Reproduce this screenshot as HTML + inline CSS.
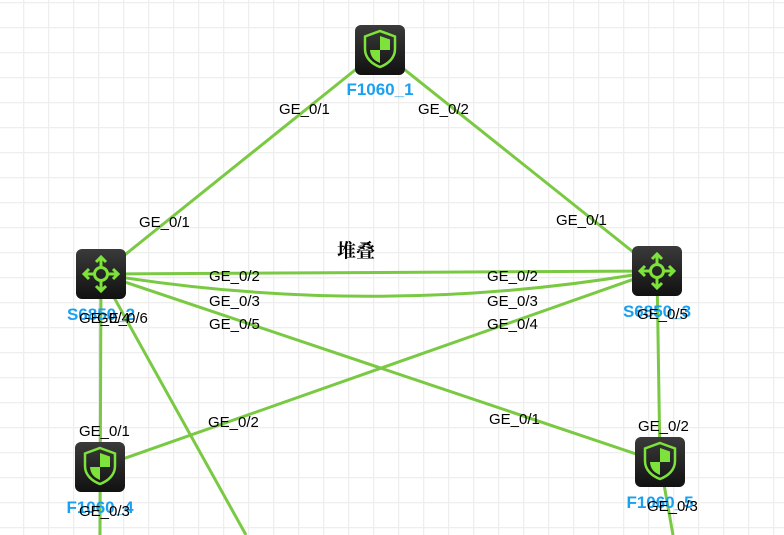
<!DOCTYPE html>
<html><head><meta charset="utf-8"><style>
html,body{margin:0;padding:0;background:#fff;}
svg{display:block;}
text{font-family:"Liberation Sans",Arial,sans-serif;}
.p{font-size:15px;fill:#000;}
.n{font-size:17px;font-weight:bold;fill:#1aa0f0;}
</style></head><body>
<svg width="784" height="535" viewBox="0 0 784 535" xmlns="http://www.w3.org/2000/svg">
<defs>
<pattern id="g" x="23" y="2" width="25" height="25" patternUnits="userSpaceOnUse">
<path d="M0 0V25M0 0H25" stroke="#eeeeee" stroke-width="2.5" fill="none"/>
</pattern>
<linearGradient id="ic" x1="0" y1="0" x2="0" y2="1"><stop offset="0" stop-color="#3a3a3a"/><stop offset="1" stop-color="#111"/></linearGradient>
<g id="fw">
<rect x="0" y="0" width="50" height="50" rx="6" fill="url(#ic)"/>
<path d="M25 6 L40 11.5 L40 24 C40 33 33 39 25 42 C17 39 10 33 10 24 L10 11.5 Z" fill="none" stroke="#7de33a" stroke-width="2.5"/>
<path d="M25 11 L35 14.5 L35 25 L25 25 Z" fill="#7de33a"/>
<path d="M25 25 L15 25 C15.5 32 19 35.5 25 38 Z" fill="#7de33a"/>
</g>
<g id="sw">
<rect x="0" y="0" width="50" height="50" rx="6" fill="url(#ic)"/>
<g stroke="#7de33a" stroke-width="3" fill="none">
<circle cx="25" cy="25" r="6.5"/>
<path d="M25 18.5V8M25 31.5V42M18.5 25H8M31.5 25H42"/>
<path d="M20 13L25 8L30 13M20 37L25 42L30 37M13 20L8 25L13 30M37 20L42 25L37 30"/>
</g>
</g>
</defs>
<rect width="784" height="535" fill="#fff"/>
<rect width="784" height="535" fill="url(#g)"/>
<g stroke="#7ac943" stroke-width="3" fill="none">
<line x1="380" y1="50" x2="101" y2="274"/>
<line x1="380" y1="50" x2="657" y2="271"/>
<line x1="101" y1="274" x2="657" y2="271"/>
<path d="M101 274 Q380 320 657 271"/>
<line x1="101" y1="274" x2="660" y2="462"/>
<line x1="657" y1="271" x2="100" y2="467"/>
<line x1="101" y1="274" x2="100" y2="535"/>
<line x1="101" y1="274" x2="246" y2="535"/>
<line x1="657" y1="271" x2="660" y2="462"/>
<line x1="660" y1="462" x2="673" y2="535"/>
</g>
<use href="#fw" x="355" y="25"/>
<use href="#sw" x="76" y="249"/>
<use href="#sw" x="632" y="246"/>
<use href="#fw" x="75" y="442"/>
<use href="#fw" x="635" y="437"/>
<text class="n" x="380" y="95" text-anchor="middle">F1060_1</text>
<text class="n" x="101" y="320" text-anchor="middle">S6850_2</text>
<text class="n" x="657" y="317" text-anchor="middle">S6850_3</text>
<text class="n" x="100" y="513" text-anchor="middle">F1060_4</text>
<text class="n" x="660" y="508" text-anchor="middle">F1060_5</text>
<text x="356" y="257" text-anchor="middle" style="font-family:'Liberation Serif','Noto Serif CJK SC',serif;font-size:19px;font-weight:bold">堆叠</text>
<g class="p">
<text x="279" y="114">GE_0/1</text>
<text x="418" y="114">GE_0/2</text>
<text x="139" y="227">GE_0/1</text>
<text x="556" y="225">GE_0/1</text>
<text x="209" y="281">GE_0/2</text>
<text x="487" y="281">GE_0/2</text>
<text x="209" y="306">GE_0/3</text>
<text x="487" y="306">GE_0/3</text>
<text x="209" y="329">GE_0/5</text>
<text x="487" y="329">GE_0/4</text>
<text x="79" y="323">GE_0/4</text>
<text x="97" y="323">GE_0/6</text>
<text x="637" y="319">GE_0/5</text>
<text x="79" y="436">GE_0/1</text>
<text x="208" y="427">GE_0/2</text>
<text x="489" y="424">GE_0/1</text>
<text x="638" y="431">GE_0/2</text>
<text x="79" y="516">GE_0/3</text>
<text x="647" y="511">GE_0/3</text>
</g>
</svg>
</body></html>
